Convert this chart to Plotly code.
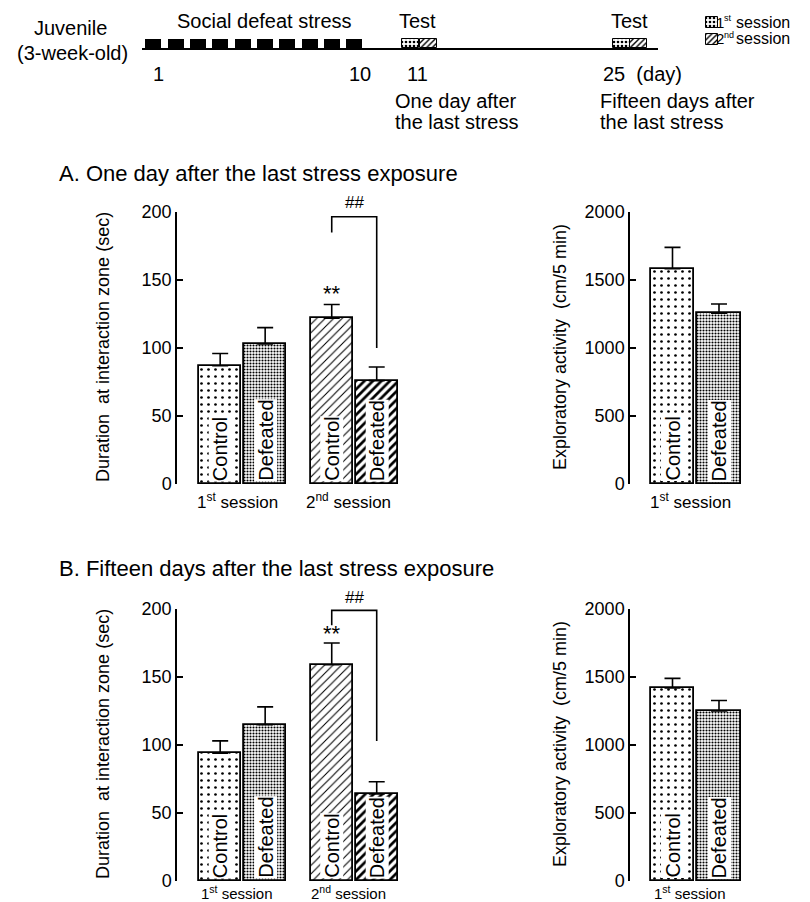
import plotly.graph_objects as go

# The page body adds an 8 px margin; the figure is sized/offset so that
# reference pixel coordinates map 1:1 onto the screenshot.
OFF = 8
W, H = 810 - OFF, 902 - OFF
FONT = "Liberation Sans, Arial, sans-serif"

# ---------------- data ----------------
conditions = ["Control", "Defeated"]
sessions = ["1<sup>st</sup> session", "2<sup>nd</sup> session"]
legend_nums = ["1", "2"]
legend_sups = ["st", "nd"]

# A. One day after the last stress exposure (day 11)
a_dur_mean = [87, 103, 122, 76]
a_dur_sem = [9, 12, 10, 10]
a_expl_mean = [1583, 1255]
a_expl_sem = [157, 69]
a_bracket = [185, 196.5, 196.5, 100]

# B. Fifteen days after the last stress exposure (day 25)
b_dur_mean = [94, 115, 159, 64]
b_dur_sem = [9, 13, 16, 9]
b_expl_mean = [1419, 1251]
b_expl_sem = [71, 76]
b_bracket = [188, 199, 199, 103]

dur_ticks = [0, 50, 100, 150, 200]
expl_ticks = [0, 500, 1000, 1500, 2000]

stress_days = list(range(1, 11))
day_labels = ["1", "10", "11", "25  (day)"]


# ---------------- helpers ----------------
def fx(x):
    return (x - OFF) / W


def fy(y):
    return 1 - (y - OFF) / H


GROUP_STEP = 2.48
pos4 = [s * GROUP_STEP + c for s in range(2) for c in range(2)]
pos2 = [0, 1]

PAT_C1 = dict(shape=".", size=7, solidity=0.12)
PAT_D1 = dict(shape=".", size=3, solidity=0.4)
PAT_C2 = dict(shape="/", size=6, solidity=0.18)
PAT_D2 = dict(shape="/", size=6, solidity=0.45)
pats4 = [PAT_C1, PAT_D1, PAT_C2, PAT_D2]
pats2 = [PAT_C1, PAT_D1]


def bar_trace(x, y, sem, pats, xa, ya, width):
    return go.Bar(
        x=x, y=y, width=width, xaxis=xa, yaxis=ya, cliponaxis=False,
        marker=dict(
            color="white",
            line=dict(color="black", width=1.8),
            pattern=dict(
                shape=[p["shape"] for p in pats],
                size=[p["size"] for p in pats],
                solidity=[p["solidity"] for p in pats],
                fgcolor="black", bgcolor="white",
            ),
        ),
        error_y=dict(type="data", symmetric=False, array=sem,
                     arrayminus=[0] * len(sem), color="black",
                     thickness=1.6, width=8),
        hoverinfo="skip",
    )


fig = go.Figure()
annotations = []

# (x axis, y axis, positions, means, sems, patterns, top px, bottom px,
#  left px, right px, x range, ticks, bar width, session-label offset, session font)
panels = [
    ("x", "y", pos4, a_dur_mean, a_dur_sem, pats4, 212, 484, 177, 410, [-0.96, 4.22], dur_ticks, 0.93, 5, 17),
    ("x2", "y2", pos2, a_expl_mean, a_expl_sem, pats2, 212, 484, 630, 770, [-0.914, 2.097], expl_ticks, 0.925, 5, 17),
    ("x3", "y3", pos4, b_dur_mean, b_dur_sem, pats4, 609, 881, 177, 410, [-0.96, 4.22], dur_ticks, 0.93, 1, 15),
    ("x4", "y4", pos2, b_expl_mean, b_expl_sem, pats2, 609, 881, 630, 770, [-0.914, 2.097], expl_ticks, 0.925, 1, 15),
]

layout_axes = {}
for i, (xa, ya, pos, mean, sem, pats, top, bot, left, right, xr, ticks, bw, soff, sfont) in enumerate(panels):
    fig.add_trace(bar_trace(pos, mean, sem, pats, xa, ya, bw))
    n = "" if i == 0 else str(i + 1)
    layout_axes["xaxis" + n] = dict(domain=[fx(left), fx(right)], range=xr, visible=False,
                                    anchor=ya, fixedrange=True)
    layout_axes["yaxis" + n] = dict(
        domain=[fy(bot), fy(top)], range=[ticks[0], ticks[-1]], tickvals=ticks,
        ticks="inside", ticklen=6, tickwidth=1.5, tickcolor="black",
        showline=True, linewidth=1.5, linecolor="black", showgrid=False,
        zeroline=False, anchor=xa, tickfont=dict(size=18, color="black", family=FONT),
        fixedrange=True, automargin=False,
    )
    for k, p in enumerate(pos):
        annotations.append(dict(
            x=p, y=0, xref=xa, yref=ya, text=conditions[k % 2], textangle=-90,
            showarrow=False, bgcolor="white", borderpad=0, yanchor="bottom",
            xanchor="center", yshift=2, font=dict(size=20, color="black", family=FONT)))
    n_sess = len(pos) // 2
    for s in range(n_sess):
        cx = (pos[2 * s] + pos[2 * s + 1]) / 2
        annotations.append(dict(
            x=cx - 0.12, y=fy(bot + soff), xref=xa, yref="paper", yanchor="top",
            xanchor="center", text=sessions[s], showarrow=False, borderpad=0,
            font=dict(size=sfont, color="black", family=FONT)))

# brackets and significance marks
for xa, ya, brk, star_y, hash_px in [("x", "y", a_bracket, 140, 203),
                                     ("x3", "y3", b_bracket, 182, 597)]:
    bx = [pos4[2], pos4[2], pos4[3], pos4[3]]
    fig.add_trace(go.Scatter(x=bx, y=brk, xaxis=xa, yaxis=ya, mode="lines",
                             line=dict(color="black", width=1.6), cliponaxis=False,
                             hoverinfo="skip"))
    annotations.append(dict(x=pos4[2], y=star_y, xref=xa, yref=ya, text="**",
                            xanchor="center", yanchor="middle",
                            showarrow=False, font=dict(size=22, color="black", family=FONT)))
    annotations.append(dict(x=(pos4[2] + pos4[3]) / 2, y=fy(hash_px), xref=xa, yref="paper",
                            text="##", xanchor="center", yanchor="middle",
                            showarrow=False, font=dict(size=17, color="black", family=FONT)))

# y axis titles
for x_px, y_px, txt in [(103, 347, "Duration  at interaction zone (sec)"),
                        (560, 347, "Exploratory activity  (cm/5 min)"),
                        (103, 744, "Duration  at interaction zone (sec)"),
                        (560, 744, "Exploratory activity  (cm/5 min)")]:
    annotations.append(dict(x=fx(x_px), y=fy(y_px), xref="paper", yref="paper",
                            xanchor="center", yanchor="middle",
                            text=txt, textangle=-90, showarrow=False,
                            font=dict(size=18, color="black", family=FONT)))

# panel titles
for y_px, txt in [(173, "A. One day after the last stress exposure"),
                  (568, "B. Fifteen days after the last stress exposure")]:
    annotations.append(dict(x=fx(57), y=fy(y_px), xref="paper", yref="paper",
                            xanchor="left", yanchor="middle",
                            text=txt, showarrow=False,
                            font=dict(size=22, color="black", family=FONT)))

# ---------------- header timeline (schematic, pixel-unit axis) ----------------
DAY1_X, PITCH = 159, 22.33
stress_x = [DAY1_X + (d - 1) * PITCH for d in stress_days]
fig.add_trace(go.Bar(x=stress_x, y=[9] * len(stress_x), base=39, width=16,
                     marker=dict(color="black", line=dict(width=0)),
                     xaxis="x5", yaxis="y5", hoverinfo="skip"))
fig.add_trace(go.Scatter(x=[142, 658], y=[49, 49], mode="lines", xaxis="x5", yaxis="y5",
                         line=dict(color="black", width=2), hoverinfo="skip"))
box_x = [410.5, 428.2, 621.5, 638.5]
fig.add_trace(go.Bar(
    x=box_x, y=[9] * 4, base=39, width=17, xaxis="x5", yaxis="y5", hoverinfo="skip",
    marker=dict(color="white", line=dict(color="black", width=1),
                pattern=dict(shape=[".", "/", ".", "/"], size=[4, 4, 4, 4],
                             solidity=[0.35, 0.35, 0.35, 0.35],
                             fgcolor="black", bgcolor="white"))))
LEG_ROWS = [22, 39]
fig.add_trace(go.Bar(
    x=[706, 706], y=[11, 11], base=[r - 5.5 for r in LEG_ROWS], width=12,
    xaxis="x5", yaxis="y5", hoverinfo="skip",
    marker=dict(color="white", line=dict(color="black", width=1),
                pattern=dict(shape=[".", "/"], size=[4, 4], solidity=[0.35, 0.35],
                             fgcolor="black", bgcolor="white"))))

layout_axes["xaxis5"] = dict(domain=[0, 1], range=[OFF, OFF + W], visible=False,
                             anchor="y5", fixedrange=True)
layout_axes["yaxis5"] = dict(domain=[fy(140), 1], range=[140, OFF], visible=False,
                             anchor="x5", fixedrange=True)

HF = 20
header_texts = [
    (70, 28, "Juvenile", "center", HF),
    (72, 53, "(3-week-old)", "center", HF),
    (264, 21, "Social defeat stress", "center", HF),
    (417, 21, "Test", "center", HF),
    (629, 21, "Test", "center", HF),
    (158, 74, day_labels[0], "center", HF),
    (360, 74, day_labels[1], "center", HF),
    (417, 74, day_labels[2], "center", HF),
    (602, 74, day_labels[3], "left", HF),
    (394, 101, "One day after", "left", HF),
    (394, 122, "the last stress", "left", HF),
    (599, 101, "Fifteen days after", "left", HF),
    (599, 122, "the last stress", "left", HF),
]
for row, yc in enumerate(LEG_ROWS):
    header_texts.append((715, yc, legend_nums[row], "left", 15))
    header_texts.append((723, yc - 4, legend_sups[row], "left", 9))
    header_texts.append((735, yc, "session", "left", 16))

for x_px, y_px, txt, anc, sz in header_texts:
    annotations.append(dict(x=fx(x_px), y=fy(y_px), xref="paper", yref="paper",
                            xanchor=anc, yanchor="middle", text=txt, showarrow=False,
                            borderpad=0,
                            font=dict(size=sz, color="black", family=FONT)))

fig.update_layout(
    template="none",
    width=W, height=H, autosize=False, margin=dict(l=0, r=0, t=0, b=0, pad=0),
    paper_bgcolor="white", plot_bgcolor="white", showlegend=False,
    bargap=0, annotations=annotations, font=dict(family=FONT, color="black"),
    **layout_axes,
)

fig.write_html("out.html")
